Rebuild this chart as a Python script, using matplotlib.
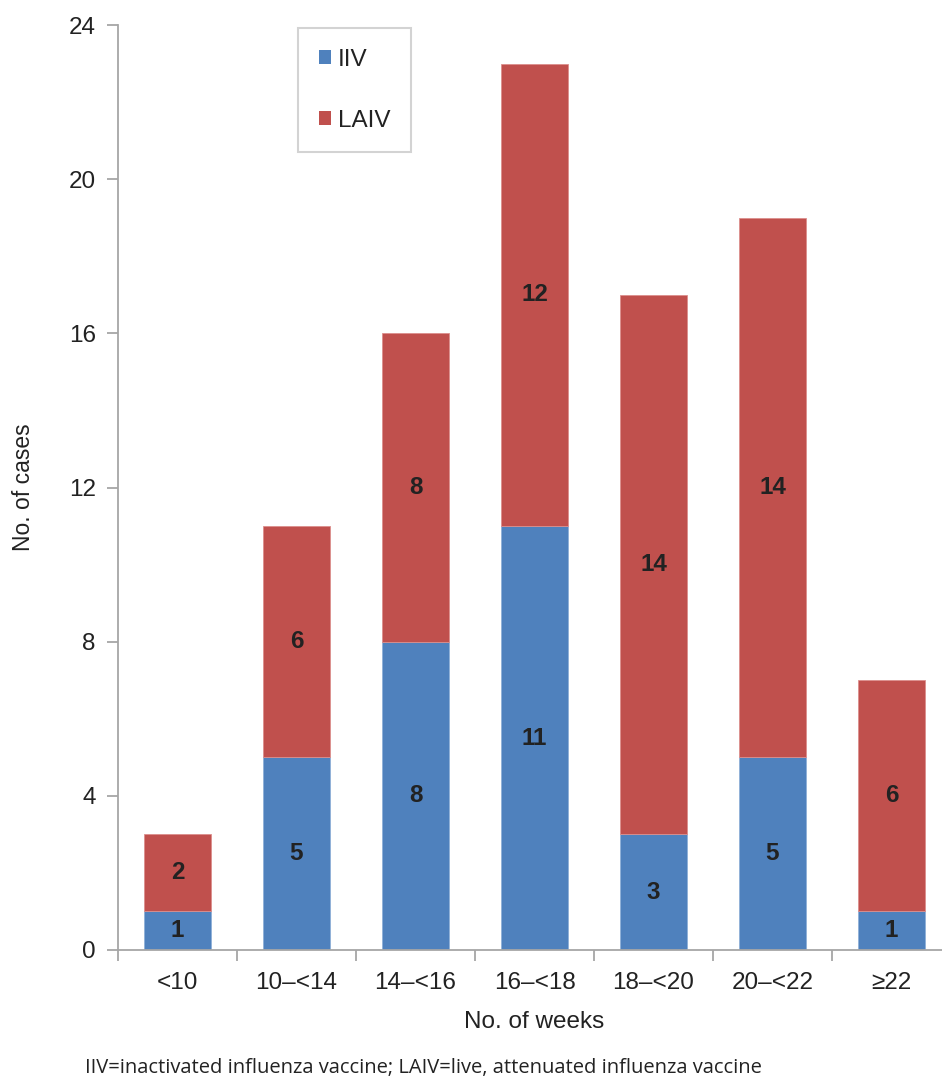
import matplotlib.pyplot as plt
import numpy as np
from matplotlib.patches import Patch

plt.rcParams['font.family'] = ['Liberation Sans', 'DejaVu Sans']

categories = ["<10", "10\u2013<14", "14\u2013<16", "16\u2013<18", "18\u2013<20", "20\u2013<22", "\u226522"]
iiv = [1, 5, 8, 11, 3, 5, 1]
laiv = [2, 6, 8, 12, 14, 14, 6]

blue = "#4F81BD"
red = "#C0504D"
spine = "#a6a6a6"
ink = "#222222"

fig = plt.figure(figsize=(9.42, 10.79), dpi=100)
ax = fig.add_axes([118 / 942, 1 - 950 / 1079, 833 / 942, 925 / 1079])

x = np.arange(len(categories))
w = 0.57
ax.bar(x, iiv, w, color=blue, edgecolor="#8fb0d8", linewidth=0.6)
ax.bar(x, laiv, w, bottom=iiv, color=red, edgecolor="#dc8f8d", linewidth=0.6)

# value labels in the middle of each segment
for xi, a, b in zip(x, iiv, laiv):
    ax.text(xi, a / 2, str(a), ha="center", va="center",
            fontsize=17.5, fontweight="bold", color=ink)
    ax.text(xi, a + b / 2, str(b), ha="center", va="center",
            fontsize=17.5, fontweight="bold", color=ink)

ax.set_xlim(-0.5, len(categories) - 0.5)
ax.set_ylim(0, 24)
ax.set_yticks(range(0, 25, 4))
ax.set_xticks(x)
ax.set_xticklabels(categories)
ax.set_xticks(np.arange(-0.5, len(categories) - 0.5, 1), minor=True)
ax.tick_params(axis="x", which="major", length=0, pad=16, labelsize=17.5, colors=ink)
ax.tick_params(axis="x", which="minor", length=8, width=1.3, color=spine)
ax.tick_params(axis="y", length=8, width=1.3, color=spine, labelsize=17.5,
               labelcolor=ink, pad=8)

for s in ["top", "right"]:
    ax.spines[s].set_visible(False)
for s in ["left", "bottom"]:
    ax.spines[s].set_color(spine)
    ax.spines[s].set_linewidth(1.3)

ax.set_ylabel("No. of cases", fontsize=16.5, color=ink, labelpad=24)
ax.set_xlabel("No. of weeks", fontsize=17.5, color=ink, labelpad=12)

handles = [Patch(facecolor=blue), Patch(facecolor=red)]
leg = ax.legend(handles, ["IIV", "LAIV"], loc="upper left",
                bbox_to_anchor=(180 / 833, 922 / 925), fontsize=17.5,
                handlelength=0.5, handleheight=0.5, handletextpad=0.3,
                labelspacing=1.6, borderpad=0.85, borderaxespad=0,
                fancybox=False, frameon=True)
leg.get_frame().set_edgecolor("#c8c8c8")
leg.get_frame().set_linewidth(1.5)
for t in leg.get_texts():
    t.set_color(ink)

fig.text(85 / 942, 1 - 1068 / 1079,
         "IIV=inactivated influenza vaccine; LAIV=live, attenuated influenza vaccine",
         fontsize=14.5, family=["Open Sans", "DejaVu Sans"], color=ink,
         va="center")

fig.savefig("out.png", dpi=100)
